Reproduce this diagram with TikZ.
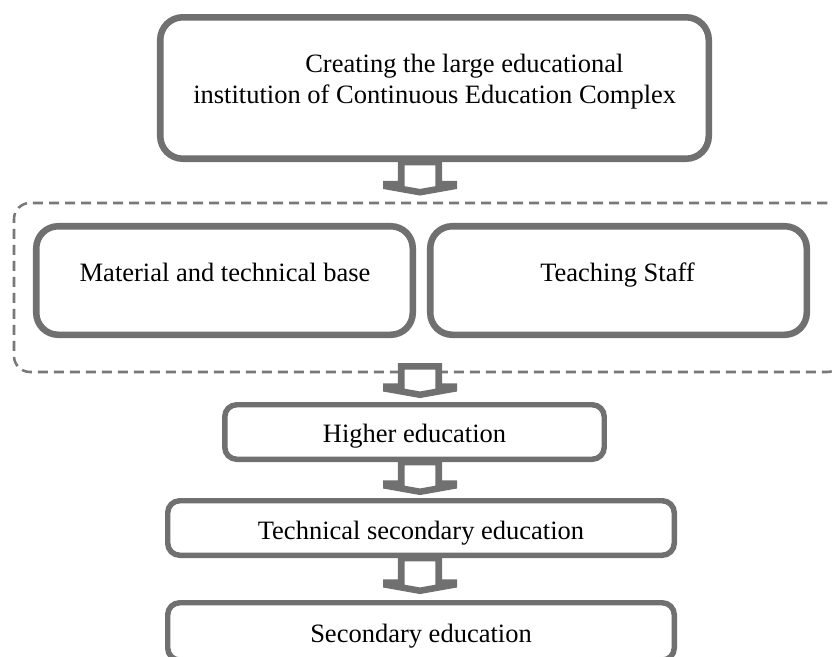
\documentclass[tikz,border=0pt]{standalone}
\usepackage{fontspec}
\setmainfont{Liberation Serif}
\usetikzlibrary{calc}
\definecolor{gr}{RGB}{112,112,112}
\definecolor{grd}{RGB}{120,120,120}
\newcommand\fs{\fontsize{19.875pt}{23pt}\selectfont}
% #1 source node, #2 target node, #3 top offset below source south (pt), #4 tip gap above target north (pt)
\newcommand\blockarrow[4]{%
  \draw[blockarr] let \p0=(420,0), \p1=(#1.south), \p2=(#2.north) in
    (\x0-14.06pt,\y1-#3) -- (\x0-14.06pt,\y2+#4+6pt) -- (\x0-25.3pt,\y2+#4+6pt)
    -- (\x0-25.3pt,\y2+#4+4.5pt) -- (\x0,\y2+#4) -- (\x0+25.3pt,\y2+#4+4.5pt)
    -- (\x0+25.3pt,\y2+#4+6pt) -- (\x0+14.06pt,\y2+#4+6pt)
    -- (\x0+14.06pt,\y1-#3) -- cycle;}
\tikzset{
  boxthick/.style={draw=gr, line width=4.9pt, rounded corners=17pt, inner sep=0pt, fill=white},
  boxthin/.style={draw=gr, line width=4.1pt, rounded corners=9pt, inner sep=0pt, fill=white},
  dashbox/.style={draw=grd, line width=1.9pt, dash pattern=on 7.5pt off 4.5pt, rounded corners=12pt, inner sep=0pt},
  lbl/.style={anchor=base, inner sep=0pt, font=\fs, text=black},
  blockarr/.style={draw=gr, line width=4.9pt, fill=white, line join=miter, miter limit=4},
}
\begin{document}
\begin{tikzpicture}[x=0.75pt,y=-0.75pt]
\useasboundingbox (0,0) rectangle (832,657);
\clip (0,0) rectangle (832,657);
% boxes
\node[boxthick, minimum width=411.4pt, minimum height=106.1pt] (top) at (434.5,88) {};
\node[dashbox, minimum width=621.75pt, minimum height=126.75pt] (dash) at (428.5,287.5) {};
\node[boxthick, rounded corners=16.5pt, minimum width=282.4pt, minimum height=81.4pt] (left) at (224.5,280.5) {};
\node[boxthick, rounded corners=16.5pt, minimum width=282.4pt, minimum height=81.4pt] (right) at (618.5,280.5) {};
\node[boxthin, minimum width=284.6pt, minimum height=40.9pt] (higher) at (414.5,432) {};
\node[boxthin, minimum width=379.9pt, minimum height=40.9pt] (tech) at (421,528) {};
\node[boxthin, minimum width=379.9pt, minimum height=43pt] (sec) at (421,631.4) {};
% texts
\node[lbl, anchor=base west] (t1) at (305,72) {Creating the large educational};
\node[lbl, anchor=base west] (t2) at (193,103) {institution of Continuous Education Complex};
\node[lbl] (tleft) at (225,281) {Material and technical base};
\node[lbl] (tright) at (617.5,281) {Teaching Staff};
\node[lbl] (thigher) at (414.5,442) {Higher education};
\node[lbl] (ttech) at (421,539) {Technical secondary education};
\node[lbl] (tsec) at (421,642) {Secondary education};
% arrows
\blockarrow{top}{dash}{0pt}{7.125pt}
\blockarrow{dash}{higher}{-5.25pt}{5.44pt}
\blockarrow{higher}{tech}{0pt}{4.69pt}
\blockarrow{tech}{sec}{0pt}{6.94pt}
\end{tikzpicture}
\end{document}
